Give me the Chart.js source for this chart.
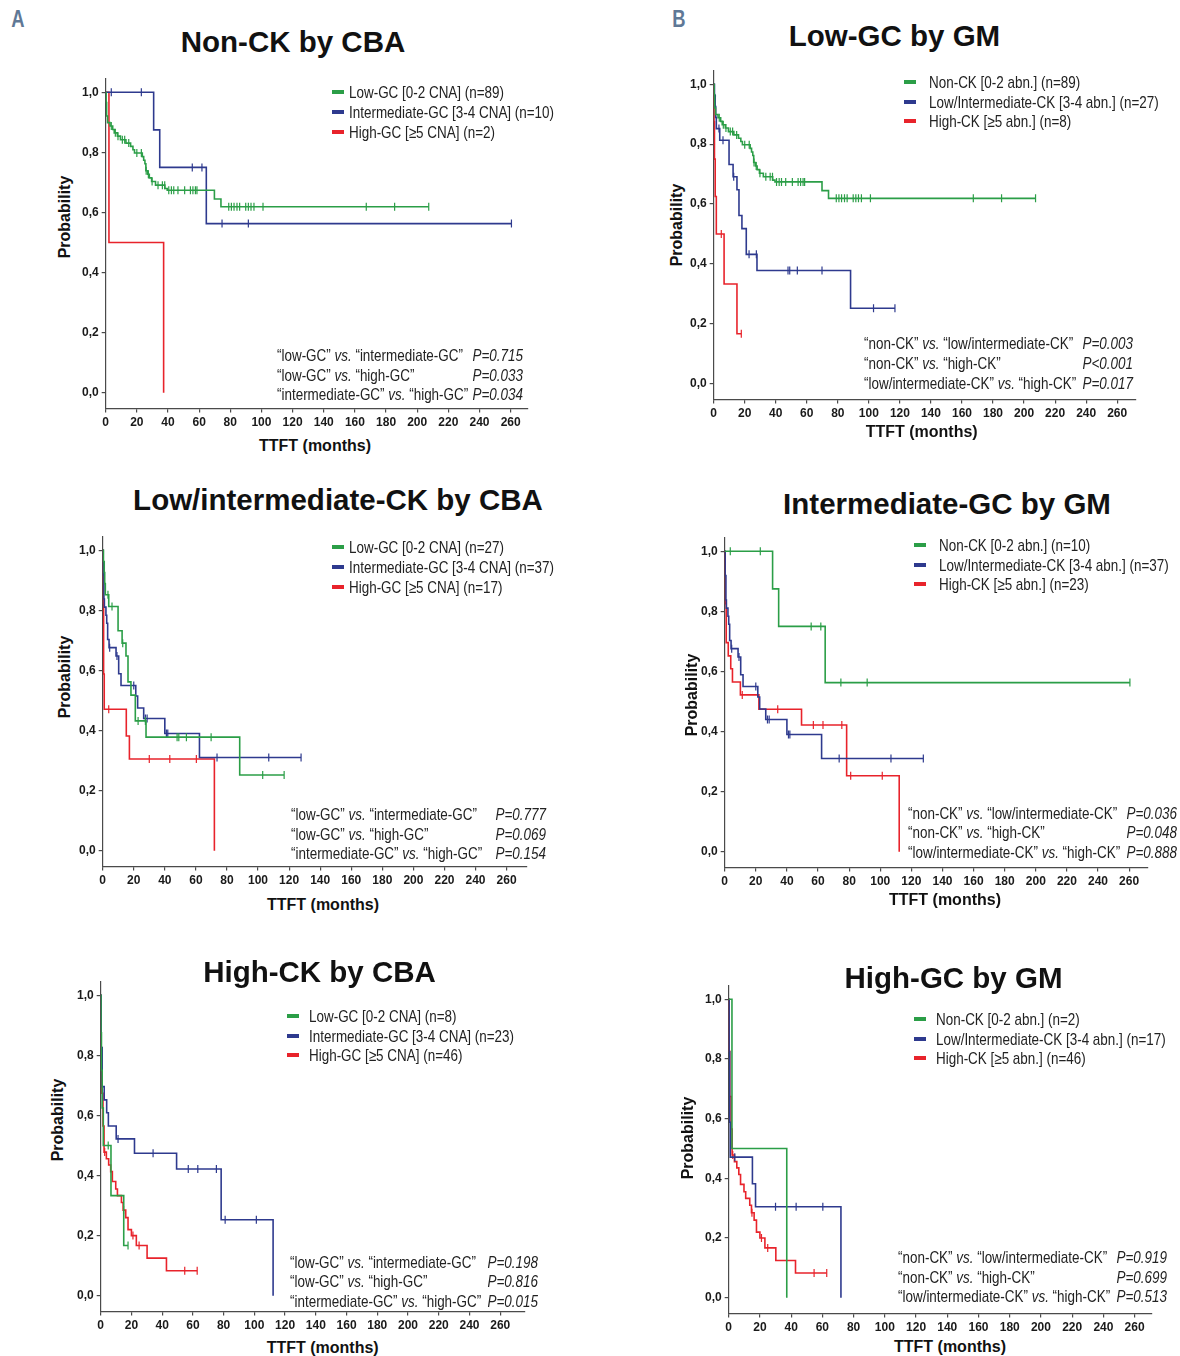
<!DOCTYPE html>
<html><head><meta charset="utf-8">
<script src="https://cdn.jsdelivr.net/npm/chart.js@4.4.1/dist/chart.umd.min.js"></script>
<style>
body{margin:0;background:#fff;}
#page{position:relative;width:1180px;height:1356px;overflow:hidden;background:#fff;}
.t{position:absolute;white-space:nowrap;line-height:1;color:#222;}
.nar{font-family:"Liberation Sans",Arial,sans-serif;font-size:16.4px;}
.ttl{font-family:"Liberation Sans",Arial,sans-serif;font-weight:bold;font-size:29.5px;color:#111;}
.ax{font-family:"Liberation Sans",Arial,sans-serif;font-weight:bold;font-size:16px;color:#111;}
.let{font-family:"Liberation Sans",Arial,sans-serif;font-weight:bold;font-size:23px;color:#5f7896;}
canvas{position:absolute;}
</style></head><body><div id="page"></div>
<script>
// Kaplan-Meier cohorts: event times (months), survival after each event, censored times
const n89T = [0.3, 0.6, 1.2, 2.8, 4.5, 5.5, 7.5, 9.5, 13, 16, 17.5, 18.5, 23.5, 24.4, 25.2, 25.8, 27, 28, 29.5, 32, 38, 39.5, 69.8, 74];
const n89S = [0.966, 0.921, 0.899, 0.888, 0.876, 0.865, 0.854, 0.842, 0.831, 0.820, 0.809, 0.798, 0.786, 0.774, 0.762, 0.739, 0.727, 0.715, 0.703, 0.691, 0.680, 0.674, 0.645, 0.619];
const n89C = [3.6, 6.2, 7.9, 10.7, 12.2, 14.8, 20, 22.9, 26, 27.4, 29.8, 33.6, 36.4, 37.9, 40.5, 42.2, 43.7, 46.4, 50.7, 54.4, 56, 57.6, 58.6, 79, 80.7, 82.4, 84.3, 86, 89.9, 91.6, 93.3, 95.2, 101, 167.3, 185.5, 207.4];

const n10T = [30.8, 34.7, 64.6];
const n10S = [0.875, 0.75, 0.563];
const n10C = [3.6, 22.9, 55.6, 61.8, 74.7, 91.6, 260.5];

const n2T = [2.1, 37.2];
const n2S = [0.5, 0];
const n2C = [];

const n27T = [0.5, 1.0, 1.3, 1.7, 3.9, 9.9, 12.5, 15, 16.3, 18.2, 21, 27.9, 88.2];
const n27S = [0.963, 0.926, 0.889, 0.852, 0.813, 0.732, 0.691, 0.648, 0.562, 0.518, 0.432, 0.378, 0.252];
const n27C = [3.4, 6, 12.9, 22.8, 27.5, 47.9, 49, 53.9, 69.8, 103, 116.8];

const n8T = [0.2, 0.5, 1.0, 1.7, 6.7, 15];
const n8S = [0.875, 0.75, 0.625, 0.5, 0.333, 0.167];
const n8C = [4.9, 17.8];

const n37T = [0.3, 0.8, 1.1, 2.1, 2.6, 3.2, 4.1, 8.6, 10.3, 11.8, 21.3, 22.5, 26.4, 40, 62.3];
const n37S = [0.919, 0.838, 0.811, 0.784, 0.757, 0.703, 0.676, 0.648, 0.589, 0.55, 0.515, 0.475, 0.44, 0.39, 0.31];
const n37C = [4.5, 9.2, 20, 27.5, 28.6, 41, 41.9, 73.6, 106.9, 127.7];

const n17T = [0.3, 0.6, 1.0, 15.2, 17.2, 71.9];
const n17S = [0.824, 0.588, 0.471, 0.382, 0.305, 0];
const n17C = [3.9, 30, 43.2, 60.3];

const n23T = [0.3, 1.0, 2.3, 3.9, 5.0, 10.1, 22, 49.4, 78.4, 112.2];
const n23S = [0.826, 0.696, 0.652, 0.609, 0.565, 0.522, 0.474, 0.422, 0.253, 0];
const n23C = [11.3, 34.1, 57, 63.2, 75.3, 81, 101.3];

const n46T = [0.3, 0.7, 1.5, 2.2, 3.7, 5.2, 6.5, 7.6, 9.8, 10.9, 13.5, 14.6, 16.3, 17.8, 20, 23.2, 30.2, 42.8];
const n46S = [0.826, 0.674, 0.565, 0.478, 0.456, 0.435, 0.413, 0.38, 0.355, 0.333, 0.31, 0.285, 0.26, 0.22, 0.2, 0.167, 0.125, 0.083];
const n46C = [2.6, 14.9, 21, 25, 54.7, 62.8];

const cbaLabels = ['Low-GC [0-2 CNA]', 'Intermediate-GC [3-4 CNA]', 'High-GC [≥5 CNA]'];
const gmLabels = ['Non-CK [0-2 abn.]', 'Low/Intermediate-CK [3-4 abn.]', 'High-CK [≥5 abn.]'];
const cbaPairs = ['“low-GC” <i>vs.</i> “intermediate-GC”', '“low-GC” <i>vs.</i> “high-GC”', '“intermediate-GC” <i>vs.</i> “high-GC”'];
const gmPairs = ['“non-CK” <i>vs.</i> “low/intermediate-CK”', '“non-CK” <i>vs.</i> “high-CK”', '“low/intermediate-CK” <i>vs.</i> “high-CK”'];

const pA1 = ['P=0.715', 'P=0.033', 'P=0.034'];
const pB1 = ['P=0.003', 'P<0.001', 'P=0.017'];
const pA2 = ['P=0.777', 'P=0.069', 'P=0.154'];
const pB2 = ['P=0.036', 'P=0.048', 'P=0.888'];
const pA3 = ['P=0.198', 'P=0.816', 'P=0.015'];
const pB3 = ['P=0.919', 'P=0.699', 'P=0.513'];

const xTickStep = 20;
const yTickStep = 0.2;

const colors = ['#2b9e47', '#2e3a8e', '#e8232b'];
const axisColor = '#4a4a4a';
const narrow = 0.82;

const cohorts = {
  n89: {n: 89, t: n89T, s: n89S, c: n89C},
  n10: {n: 10, t: n10T, s: n10S, c: n10C},
  n2: {n: 2, t: n2T, s: n2S, c: n2C},
  n27: {n: 27, t: n27T, s: n27S, c: n27C},
  n8: {n: 8, t: n8T, s: n8S, c: n8C},
  n37: {n: 37, t: n37T, s: n37S, c: n37C},
  n17: {n: 17, t: n17T, s: n17S, c: n17C},
  n23: {n: 23, t: n23T, s: n23S, c: n23C},
  n46: {n: 46, t: n46T, s: n46S, c: n46C}
};

// layout of each panel: plot area [left, top, right, bottom] in page pixels
const panels = [
  {title: 'Non-CK by CBA', tx: 293, ty: 42, area: [106, 78.2, 528.1, 408.2], xmax: 271,
   curves: ['n89', 'n10', 'n2'], labels: cbaLabels, pairs: cbaPairs, pv: pA1,
   leg: {sx: 332, tx: 349, y: [92, 112, 132]}, ann: {lx: 277, rx: 523, y: [355, 374.5, 393.5]},
   xt: [315, 446], yt: [65, 217]},
  {title: 'Low-GC by GM', tx: 894.5, ty: 36, area: [714, 69.9, 1136.4, 399.2], xmax: 272,
   curves: ['n89', 'n27', 'n8'], labels: gmLabels, pairs: gmPairs, pv: pB1,
   leg: {sx: 904, tx: 929, y: [82, 101.7, 121]}, ann: {lx: 864, rx: 1133, y: [343, 363, 382.7]},
   xt: [921.7, 431.7], yt: [676.7, 225]},
  {title: 'Low/intermediate-CK by CBA', tx: 338, ty: 500, area: [102.3, 535.9, 526.3, 865.9], xmax: 273,
   curves: ['n27', 'n37', 'n17'], labels: cbaLabels, pairs: cbaPairs, pv: pA2,
   leg: {sx: 332, tx: 349, y: [546.7, 566.7, 586.7]}, ann: {lx: 291, rx: 546, y: [814, 833.5, 853]},
   xt: [323, 905], yt: [65, 676.7]},
  {title: 'Intermediate-GC by GM', tx: 947, ty: 504, area: [724.3, 537.6, 1147.7, 867.6], xmax: 272,
   curves: ['n10', 'n37', 'n23'], labels: gmLabels, pairs: gmPairs, pv: pB2,
   leg: {sx: 914, tx: 939, y: [545, 564.7, 584]}, ann: {lx: 908, rx: 1176.5, y: [812.7, 832, 851.7]},
   xt: [945, 900], yt: [691.7, 695]},
  {title: 'High-CK by CBA', tx: 319.5, ty: 972, area: [101, 981.6, 524.7, 1311.6], xmax: 276,
   curves: ['n8', 'n23', 'n46'], labels: cbaLabels, pairs: cbaPairs, pv: pA3,
   leg: {sx: 287, tx: 309, y: [1015.7, 1035.7, 1055]}, ann: {lx: 290, rx: 538, y: [1261.7, 1281, 1300.7]},
   xt: [322.7, 1348], yt: [58, 1120]},
  {title: 'High-GC by GM', tx: 953.5, ty: 978, area: [728.3, 984.9, 1151.5, 1313.5], xmax: 271,
   curves: ['n2', 'n17', 'n46'], labels: gmLabels, pairs: gmPairs, pv: pB3,
   leg: {sx: 914, tx: 936, y: [1019, 1038.7, 1057.7]}, ann: {lx: 898, rx: 1167.3, y: [1256.7, 1276.7, 1296]},
   xt: [950, 1346.7], yt: [688.3, 1138]}
];

const page = document.getElementById('page');

function addText(html, x, y, cls, anchor, extra) {
  const d = document.createElement('div');
  d.className = 't ' + cls;
  d.innerHTML = html;
  d.style.left = x + 'px';
  d.style.top = y + 'px';
  const tx = anchor === 'r' ? '-100%' : anchor === 'c' ? '-50%' : '0';
  d.style.transformOrigin = (anchor === 'r' ? 'right' : anchor === 'c' ? 'center' : 'left') + ' center';
  d.style.transform = 'translate(' + tx + ',-50%)' + (extra || '');
  page.appendChild(d);
  return d;
}

// condensed text: regular sans squeezed horizontally
function addNarrow(html, x, y, anchor) {
  return addText(html, x, y, 'nar', anchor, ' scaleX(' + narrow + ')');
}

function kmPoints(co) {
  const pts = [{x: 0, y: 1, c: false}];
  const ev = co.t.map((t, i) => ({x: t, s: co.s[i], c: false}));
  const ce = co.c.map(t => ({x: t, c: true}));
  const all = ev.concat(ce).sort((a, b) => a.x - b.x);
  let cur = 1;
  all.forEach(p => {
    if (!p.c) cur = p.s;
    pts.push({x: p.x, y: cur, c: p.c});
  });
  return pts;
}

const tickFont = {family: '"Liberation Sans", Arial, sans-serif', size: 12, weight: 'bold'};

function makeConfig(p) {
  return {
    type: 'line',
    data: {
      datasets: p.curves.map((k, i) => ({
        data: kmPoints(cohorts[k]),
        borderColor: colors[i],
        borderWidth: 1.6,
        stepped: true,
        fill: false,
        pointStyle: 'line',
        pointRotation: 90,
        pointRadius: ctx => (ctx.raw && ctx.raw.c ? 4 : 0),
        pointHoverRadius: 0,
        pointBorderColor: colors[i],
        pointBorderWidth: 1.2
      }))
    },
    options: {
      responsive: false,
      animation: false,
      events: [],
      layout: {padding: 0},
      plugins: {legend: {display: false}, tooltip: {enabled: false}},
      scales: {
        x: {
          type: 'linear', min: 0, max: p.xmax,
          ticks: {stepSize: xTickStep, includeBounds: false, autoSkip: false, maxRotation: 0,
                  font: tickFont, color: '#1a1a1a', padding: 3},
          grid: {drawOnChartArea: false, tickLength: 4, color: axisColor, lineWidth: 1.2},
          border: {color: axisColor, width: 1.2}
        },
        y: {
          type: 'linear', min: -0.053, max: 1.047,
          ticks: {stepSize: yTickStep, includeBounds: false, font: tickFont, color: '#1a1a1a', padding: 3,
                  callback: v => v.toFixed(1).replace('.', ',')},
          grid: {drawOnChartArea: false, tickLength: 4, color: axisColor, lineWidth: 1.2},
          border: {color: axisColor, width: 1.2}
        }
      }
    }
  };
}

function placeCanvas(p, inL, inT, inR, inB) {
  const [l, t, r, b] = p.area;
  const cv = document.createElement('canvas');
  cv.width = Math.round(r - l + inL + inR);
  cv.height = Math.round(b - t + inT + inB);
  cv.style.left = (l - inL) + 'px';
  cv.style.top = (t - inT) + 'px';
  page.appendChild(cv);
  return cv;
}

panels.forEach(p => {
  // first pass measures the insets around the plot area, second pass places it
  const c1 = placeCanvas(p, 50, 10, 10, 30);
  const ch1 = new Chart(c1, makeConfig(p));
  const ca = ch1.chartArea;
  const inL = ca.left, inT = ca.top, inR = c1.width - ca.right, inB = c1.height - ca.bottom;
  ch1.destroy();
  c1.remove();
  const c2 = placeCanvas(p, inL, inT, inR, inB);
  new Chart(c2, makeConfig(p));

  addText(p.title, p.tx, p.ty, 'ttl', 'c');
  addText('TTFT (months)', p.xt[0], p.xt[1], 'ax', 'c');
  addText('Probability', p.yt[0], p.yt[1], 'ax', 'c', ' rotate(-90deg)');

  p.curves.forEach((k, i) => {
    const sw = document.createElement('div');
    sw.style.cssText = 'position:absolute;width:12px;height:4px;background:' + colors[i] +
      ';left:' + p.leg.sx + 'px;top:' + (p.leg.y[i] - 2) + 'px;';
    page.appendChild(sw);
    addNarrow(p.labels[i] + ' (n=' + cohorts[k].n + ')', p.leg.tx, p.leg.y[i], 'l');
  });

  p.pairs.forEach((txt, i) => {
    addNarrow(txt, p.ann.lx, p.ann.y[i], 'l');
    addNarrow('<i>' + p.pv[i] + '</i>', p.ann.rx, p.ann.y[i], 'r');
  });
});

addText('A', 18, 19, 'let', 'c', ' scaleX(0.8)');
addText('B', 679, 19, 'let', 'c', ' scaleX(0.8)');
</script>
</body></html>
